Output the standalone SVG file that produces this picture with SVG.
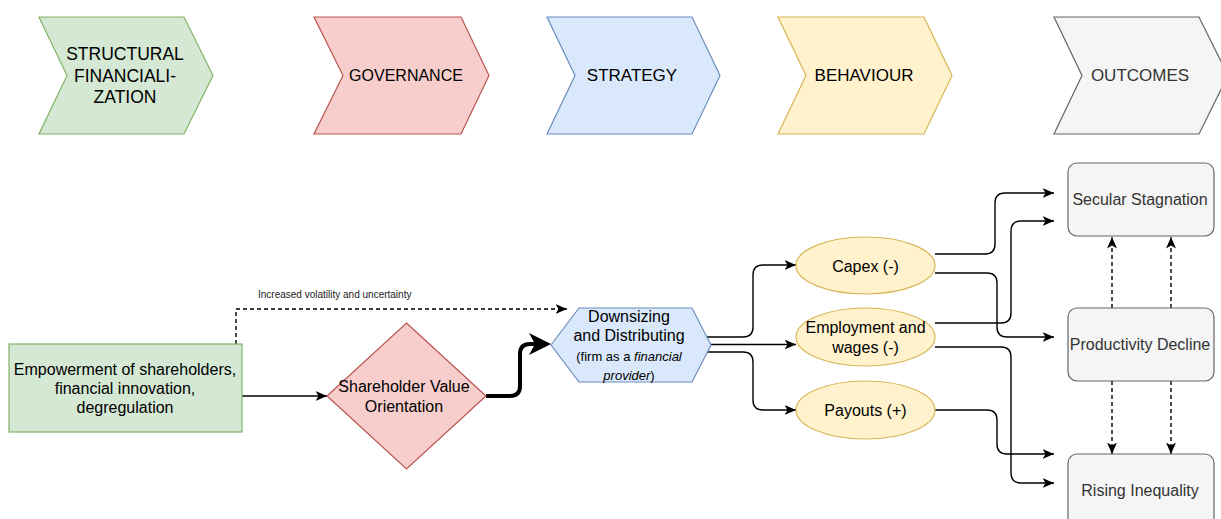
<svg xmlns="http://www.w3.org/2000/svg" width="1221" height="519" viewBox="0 0 1221 519">
  <style>
    text { font-family: "Liberation Sans", Arial, sans-serif; font-size: 16px; fill: #000; text-anchor: middle; }
    .stage { font-size: 17px; }
    .stage-lg { font-size: 17.5px; }
    .muted { fill: #333; }
    .small { font-size: 13px; }
    .tiny { font-size: 10px; fill: #222; text-anchor: start; }
    .green { fill: #d5e8d4; stroke: #82b366; stroke-width: 1.2; }
    .red { fill: #f8cecc; stroke: #b85450; stroke-width: 1.2; }
    .blue { fill: #dae8fc; stroke: #6c8ebf; stroke-width: 1.2; }
    .yellow { fill: #fff2cc; stroke: #d6b656; stroke-width: 1.2; }
    .gray { fill: #f5f5f5; stroke: #666; stroke-width: 1.2; }
    .edge { fill: none; stroke: #000; stroke-width: 1.4; }
    .dashed { stroke-dasharray: 4 3; }
    .thick { stroke-width: 4; }
  </style>
  <defs>
    <marker id="arrow" markerUnits="userSpaceOnUse" markerWidth="13" markerHeight="11" refX="11.5" refY="5" orient="auto">
      <path d="M0,0 L11.5,5 L0,10 L3,5 Z" fill="#000" stroke="none"/>
    </marker>
    <marker id="arrowBig" markerUnits="userSpaceOnUse" markerWidth="24" markerHeight="24" refX="12" refY="11" orient="auto">
      <path d="M0,0 L22,11 L0,22 L6,11 Z" fill="#000" stroke="none"/>
    </marker>
  </defs>

  <!-- stage chevrons -->
  <g id="stage-structural">
    <polygon class="green" points="39,17 184,17 213,75.5 184,134 39,134 67,75.5"/>
    <text class="stage-lg" x="125" y="60">STRUCTURAL</text>
    <text class="stage-lg" x="125" y="81.5">FINANCIALI-</text>
    <text class="stage-lg" x="125" y="103">ZATION</text>
  </g>
  <g id="stage-governance">
    <polygon class="red" points="314,17 461,17 489,75.5 461,134 314,134 343,75.5"/>
    <text x="406" y="81">GOVERNANCE</text>
  </g>
  <g id="stage-strategy">
    <polygon class="blue" points="547,17 692,17 720,75.5 692,134 547,134 575,75.5"/>
    <text class="stage" x="632" y="81">STRATEGY</text>
  </g>
  <g id="stage-behaviour">
    <polygon class="yellow" points="778,17 924,17 952,75.5 924,134 778,134 806,75.5"/>
    <text class="stage" x="864" y="81">BEHAVIOUR</text>
  </g>
  <g id="stage-outcomes">
    <polygon class="gray" points="1054,17 1199,17 1228,75.5 1199,134 1054,134 1082,75.5"/>
    <text class="stage muted" x="1140" y="81">OUTCOMES</text>
  </g>

  <!-- connectors -->
  <g id="connectors">
    <path class="edge dashed" d="M236,344 V309 H567" marker-end="url(#arrow)"/>
    <path class="edge" d="M242,396 H327" marker-end="url(#arrow)"/>
    <path class="edge thick" d="M486,396 H510 Q520,396 520,386 V354 Q520,344 530,344 H541" marker-end="url(#arrowBig)"/>

    <path class="edge" d="M706,337 H743 Q753,337 753,327 V275 Q753,265 763,265 H796" marker-end="url(#arrow)"/>
    <path class="edge" d="M711,344.5 H796" marker-end="url(#arrow)"/>
    <path class="edge" d="M706,352 H743 Q753,352 753,362 V400 Q753,410 763,410 H796" marker-end="url(#arrow)"/>

    <path class="edge" d="M935,254 H985 Q995,254 995,244 V203 Q995,193 1005,193 H1054" marker-end="url(#arrow)"/>
    <path class="edge" d="M935,273 H987 Q997,273 997,283 V327 Q997,337 1007,337 H1054" marker-end="url(#arrow)"/>
    <path class="edge" d="M935,323 H1001 Q1011,323 1011,313 V231 Q1011,221 1021,221 H1054" marker-end="url(#arrow)"/>
    <path class="edge" d="M935,347 H1001 Q1011,347 1011,357 V473 Q1011,483 1021,483 H1054" marker-end="url(#arrow)"/>
    <path class="edge" d="M935,410 H987 Q997,410 997,420 V444 Q997,454 1007,454 H1054" marker-end="url(#arrow)"/>

    <path class="edge dashed" d="M1112,308 V237" marker-end="url(#arrow)"/>
    <path class="edge dashed" d="M1171,308 V237" marker-end="url(#arrow)"/>
    <path class="edge dashed" d="M1112,381 V454" marker-end="url(#arrow)"/>
    <path class="edge dashed" d="M1171,381 V454" marker-end="url(#arrow)"/>

    <text class="tiny" x="258" y="298">Increased volatility and uncertainty</text>
  </g>

  <!-- process nodes -->
  <g id="node-empowerment">
    <rect class="green" x="9" y="344" width="233" height="88"/>
    <text x="125" y="375">Empowerment of shareholders,</text>
    <text x="125" y="394">financial innovation,</text>
    <text x="125" y="413">degregulation</text>
  </g>
  <g id="node-shareholder-value">
    <polygon class="red" points="406.5,323 486,396 406.5,469 327,396"/>
    <text x="404" y="392">Shareholder Value</text>
    <text x="404" y="412">Orientation</text>
  </g>
  <g id="node-downsizing">
    <polygon class="blue" points="551,345 579,308 692,308 711,345 692,382 579,382"/>
    <text x="629" y="321.5">Downsizing</text>
    <text x="629" y="340.5">and Distributing</text>
    <text class="small" x="629" y="361">(firm as a <tspan font-style="italic">financial</tspan></text>
    <text class="small" x="629" y="380"><tspan font-style="italic">provider</tspan>)</text>
  </g>
  <g id="node-capex">
    <ellipse class="yellow" cx="865.5" cy="265.5" rx="69.5" ry="28.5"/>
    <text x="865.5" y="271.5">Capex (-)</text>
  </g>
  <g id="node-employment">
    <ellipse class="yellow" cx="865.5" cy="337" rx="69.5" ry="29"/>
    <text x="865.5" y="332.5">Employment and</text>
    <text x="865.5" y="352.5">wages (-)</text>
  </g>
  <g id="node-payouts">
    <ellipse class="yellow" cx="865.5" cy="410" rx="69.5" ry="29"/>
    <text x="865.5" y="415.5">Payouts (+)</text>
  </g>

  <!-- outcome nodes -->
  <g id="node-secular-stagnation">
    <rect class="gray" x="1068" y="163" width="146" height="73" rx="9"/>
    <text class="muted" x="1140" y="205">Secular Stagnation</text>
  </g>
  <g id="node-productivity-decline">
    <rect class="gray" x="1068" y="308" width="146" height="73" rx="9"/>
    <text class="muted" x="1140" y="350">Productivity Decline</text>
  </g>
  <g id="node-rising-inequality">
    <rect class="gray" x="1068" y="454" width="146" height="73" rx="9"/>
    <text class="muted" x="1140" y="496">Rising Inequality</text>
  </g>
</svg>
